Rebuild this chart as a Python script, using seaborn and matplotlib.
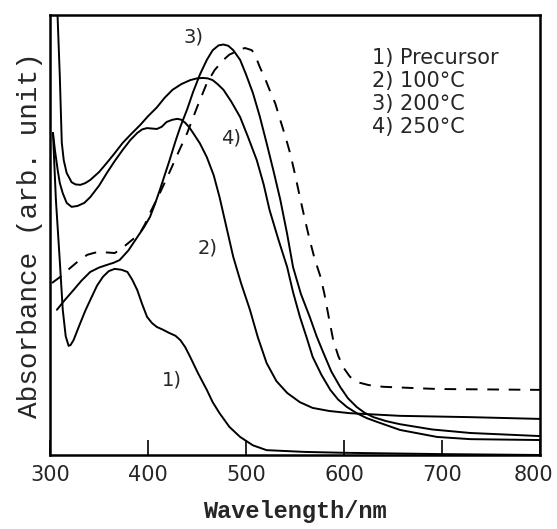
import matplotlib
matplotlib.use("Agg")
import matplotlib.pyplot as plt
import matplotlib.transforms as mtransforms
import pandas as pd
import seaborn as sns

# wavelength (nm) / absorbance (arb., 0-100 scale)
wl_precursor = [303, 306, 310, 313, 316, 319, 321, 324, 330, 336, 341, 348, 354, 360, 366,
                373, 379, 384, 389, 394, 399, 404, 409, 415, 422, 428, 433, 438, 443, 451,
                460, 466, 473, 483, 494, 507, 521, 560, 600, 700, 800]
ab_precursor = [73.2, 58, 44, 33, 27, 24.8, 25, 26.1, 29.5, 32.8, 35.2, 38.5, 40.5, 41.8, 42.3,
                42.1, 41.6, 39.8, 37.5, 34.3, 31.4, 30, 29.1, 28.5, 27.7, 27.1, 26.1, 24.5, 22.3, 18.6,
                14.8, 12, 9.5, 6.4, 4.1, 2.2, 1.1, 0.7, 0.5, 0.2, 0.0]

wl_100 = [303, 305, 308, 310, 313, 317, 322, 328, 335, 341, 350, 358, 366, 374, 382, 389,
          394, 399, 404, 409, 414, 419, 425, 430, 434, 438, 442, 446, 453, 460, 467, 473,
          480, 487, 495, 504, 512, 521, 531, 542, 555, 568, 585, 606, 657, 729, 800]
ab_100 = [73.2, 69.3, 64.5, 61.8, 59.5, 57.3, 56.4, 56.6, 57.3, 58.6, 61.2, 64.1, 66.8, 69.3, 71.6, 73.2,
          74.0, 74.3, 74.2, 74.1, 74.6, 75.7, 76.2, 76.4, 76.2, 75.5, 74.5, 73.2, 70.8, 67.7, 63.6, 58.6,
          51.8, 45, 39, 33, 26.8, 20.9, 16.8, 14.1, 12, 10.7, 10, 9.5, 8.9, 8.6, 8.2]

wl_200 = [307, 315, 324, 332, 341, 350, 358, 365, 371, 380, 389, 396, 402, 407, 412, 417,
          422, 428, 433, 440, 446, 453, 460, 466, 472, 477, 482, 487, 494, 500, 507, 514,
          521, 528, 535, 542, 548, 556, 565, 572, 579, 587, 596, 604, 613, 621, 630, 643,
          657, 690, 729, 800]
ab_200 = [33, 35.2, 37.5, 39.6, 41.6, 42.6, 43.2, 43.7, 44.3, 46.5, 49.5, 51.8, 54.1, 57, 60.2, 63.6,
          67, 71.3, 74.6, 78.6, 82.5, 86.5, 89.8, 92, 93.1, 93.3, 93, 92, 89.8, 86.5, 82.3, 77,
          70.9, 64.6, 58, 50.2, 42.7, 36.6, 31.4, 27, 23.2, 19, 15.5, 12.9, 10.9, 9.6, 8.6, 7.7,
          7, 5.8, 5, 4.3]

wl_250 = [307.5, 310, 312, 314, 317, 322, 326, 331, 336, 341, 350, 358, 366, 374, 383, 392,
          400, 409, 417, 425, 434, 443, 450, 456, 461, 466, 471, 477, 485, 494, 502, 511,
          518, 524, 533, 542, 548, 555, 562, 568, 577, 586, 594, 603, 613, 623, 634, 657,
          695, 729, 800]
ab_250 = [101, 86, 71, 67, 64.1, 62, 61.5, 61.4, 61.8, 62.5, 64.3, 66.4, 68.6, 70.9, 73, 75,
          77, 79, 81.2, 83, 84.3, 85.2, 85.6, 85.7, 85.6, 85.2, 84.3, 83, 80.3, 76.8, 72.3, 67,
          61.5, 55.7, 49, 42.7, 37, 31.4, 26.6, 22.3, 18.2, 14.8, 12.6, 10.9, 9.5, 8.4, 7.5, 5.7,
          4.1, 3.6, 3.4]

wl_dash = [302, 313, 320, 328, 338, 346, 353, 360, 366, 373, 380, 386, 392, 397, 402, 412,
           422, 431, 440, 450, 460, 468, 477, 483, 489, 494, 499, 506, 510, 514, 519, 524,
           530, 535, 540, 545, 550, 555, 560, 565, 570, 576, 580, 583, 586, 589, 594, 599,
           606, 613, 625, 640, 695, 800]
ab_dash = [39.1, 40.9, 42.4, 43.9, 45.5, 46, 46.1, 46, 45.9, 46.9, 48.2, 49.3, 50.5, 52.5, 55, 59.5,
           64.3, 68.8, 73.2, 79, 84.5, 87.5, 89.8, 91, 91.6, 92.2, 92.5, 92, 90.5, 88.2, 85.8, 83,
           79.8, 76.1, 72.5, 68.6, 63.8, 58.6, 53.6, 48.9, 44.6, 40.5, 36.6, 33, 29.5, 26.1, 22.6, 20,
           17.8, 16.6, 15.9, 15.5, 15, 14.8]

legend_lines = ["1) Precursor", "2) 100°C", "3) 200°C", "4) 250°C"]
curve_tags = ["1)", "2)", "3)", "4)"]
tag_pos = [(424, 17), (461, 47), (446, 95), (485, 72)]

sns.set_style("white")
fig = plt.figure(figsize=(5.57, 5.29), dpi=100)
ax = fig.add_axes([0.0898, 0.1399, 0.8797, 0.8317])

ink = "black"
for wl, ab in [(wl_precursor, ab_precursor), (wl_100, ab_100),
               (wl_200, ab_200), (wl_250, ab_250)]:
    df = pd.DataFrame({"wl": wl, "ab": ab})
    sns.lineplot(data=df, x="wl", y="ab", color=ink, lw=1.4, ax=ax, sort=False,
                 solid_joinstyle="round")
df = pd.DataFrame({"wl": wl_dash, "ab": ab_dash})
sns.lineplot(data=df, x="wl", y="ab", color=ink, lw=1.4, ax=ax, sort=False,
             linestyle=(0, (6, 5)))

ax.set_xlim(300, 800)
ax.set_ylim(0, 100)
ax.set_xticks([300, 400, 500, 600, 700, 800])
ax.set_yticks([])
ax.tick_params(axis="x", direction="in", length=11, width=1.4, labelsize=15,
               pad=7, top=False, bottom=True)
for s in ax.spines.values():
    s.set_visible(True)
    s.set_linewidth(1.8)
    s.set_color(ink)

# last tick label sits against the right edge, nudge it left a bit
last = ax.get_xticklabels()[-1]
last.set_transform(last.get_transform() +
                   mtransforms.ScaledTranslation(-7 / 100, 0, fig.dpi_scale_trans))

ax.set_xlabel("Wavelength/nm", family="Liberation Mono", weight="bold",
              fontsize=17, labelpad=11)
ax.set_ylabel("Absorbance (arb. unit)", family="Liberation Mono",
              fontsize=20, labelpad=5)

for i, t in enumerate(legend_lines):
    ax.text(0.657, 0.902 - i * 0.0523, t, transform=ax.transAxes, fontsize=15,
            va="center", ha="left")
for t, (x, y) in zip(curve_tags, tag_pos):
    ax.text(x, y, t, fontsize=14, ha="center", va="center")

fig.savefig("out.png", dpi=100)
